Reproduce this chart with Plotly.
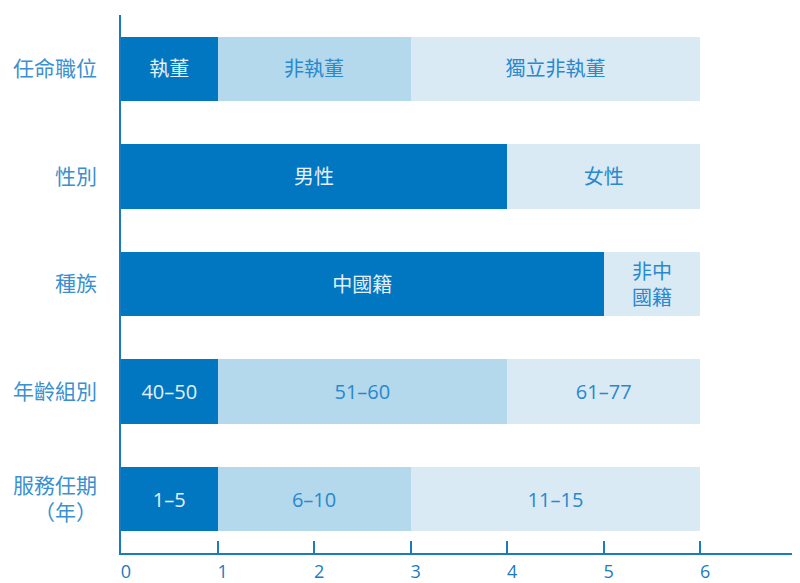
import plotly.graph_objects as go

categories = ["任命職位", "性別", "種族", "年齡組別", "服務任期<br>（年）"]

seg1_values = [1, 4, 5, 1, 1]
seg1_labels = ["執董", "男性", "中國籍", "40–50", "1–5"]

seg2_values = [2, 0, 0, 3, 2]
seg2_labels = ["非執董", "", "", "51–60", "6–10"]

seg3_values = [3, 2, 1, 2, 3]
seg3_labels = ["獨立非執董", "女性", "非中<br>國籍", "61–77", "11–15"]

x_ticks = [0, 1, 2, 3, 4, 5, 6, 7]

DARK = "#0077C0"
MID = "#B4D8EC"
LIGHT = "#D9EAF5"
AXIS = "#1B7BC2"
FONT = "Open Sans, Noto Sans CJK TC, sans-serif"

fig = go.Figure()
for vals, labels, color, tcolor in [
    (seg1_values, seg1_labels, DARK, "#E3EFF9"),
    (seg2_values, seg2_labels, MID, "#2A88CC"),
    (seg3_values, seg3_labels, LIGHT, "#2A88CC"),
]:
    fig.add_trace(go.Bar(
        y=categories, x=vals, orientation="h",
        text=labels, textposition="inside", insidetextanchor="middle",
        textangle=0, constraintext="none",
        textfont=dict(family=FONT, size=20, color=tcolor),
        marker=dict(color=color, line=dict(width=0)),
        width=0.6, hoverinfo="skip", showlegend=False,
    ))

# page body has an 8px default margin, so the figure is sized/offset to match
fig.update_layout(
    barmode="stack",
    width=792, height=575,
    margin=dict(l=113, r=3, t=7, b=30, autoexpand=False),
    plot_bgcolor="white", paper_bgcolor="white",
    font=dict(family=FONT),
    uniformtext=dict(minsize=20, mode="show"),
)
fig.update_xaxes(
    range=[0, 7.002], tickvals=x_ticks, showgrid=False, zeroline=False,
    showline=True, linecolor=AXIS, linewidth=1.5,
    ticks="inside", ticklen=12, tickwidth=1.5, tickcolor=AXIS,
    tickfont=dict(family=FONT, size=18, color=AXIS),
    ticklabelstandoff=2, ticklabelshift=5, ticklabeloverflow="allow",
    automargin=False,
)
fig.update_yaxes(
    range=[4.5, -0.5], autorange=False, showgrid=False, zeroline=False,
    showline=True, linecolor=AXIS, linewidth=1.5, ticks="",
    tickfont=dict(family=FONT, size=21, color="#3A90D0"),
    ticklabelstandoff=18, automargin=False,
)

fig.write_html("out.html")
